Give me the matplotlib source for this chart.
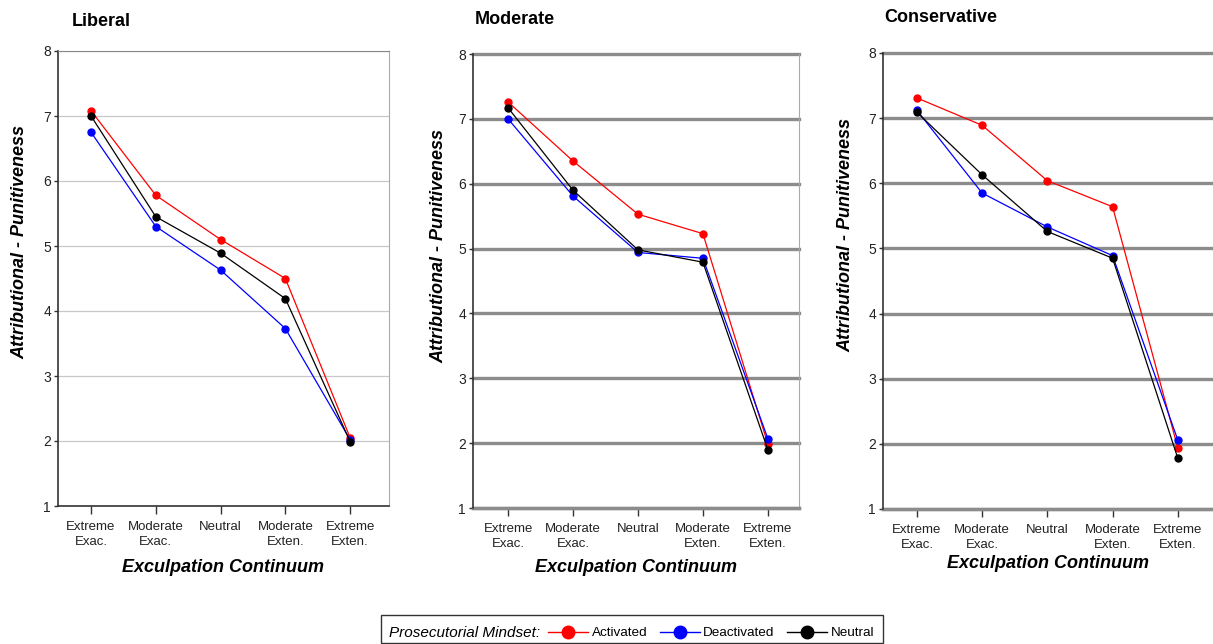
import matplotlib.pyplot as plt
from matplotlib.lines import Line2D
from matplotlib.patches import Rectangle

plt.rcParams['font.family'] = ['Liberation Sans', 'DejaVu Sans']

categories = ["Extreme\nExac.", "Moderate\nExac.", "Neutral", "Moderate\nExten.", "Extreme\nExten."]
panels = ["Liberal", "Moderate", "Conservative"]

# Attributional - Punitiveness means, per panel
liberal_activated = [7.08, 5.78, 5.10, 4.50, 2.05]
liberal_deactivated = [6.75, 5.30, 4.63, 3.73, 2.02]
liberal_neutral = [7.00, 5.45, 4.89, 4.19, 1.99]

moderate_activated = [7.26, 6.35, 5.53, 5.23, 1.99]
moderate_deactivated = [7.00, 5.81, 4.94, 4.85, 2.07]
moderate_neutral = [7.17, 5.90, 4.98, 4.79, 1.90]

conservative_activated = [7.31, 6.89, 6.04, 5.64, 1.94]
conservative_deactivated = [7.12, 5.85, 5.33, 4.89, 2.06]
conservative_neutral = [7.09, 6.13, 5.26, 4.85, 1.78]

series = {
    "Liberal": (liberal_activated, liberal_deactivated, liberal_neutral),
    "Moderate": (moderate_activated, moderate_deactivated, moderate_neutral),
    "Conservative": (conservative_activated, conservative_deactivated, conservative_neutral),
}
colors = ["#ff0000", "#0000ff", "#000000"]
legend_labels = ["Activated", "Deactivated", "Neutral"]

W, H = 1213, 644
fig = plt.figure(figsize=(W / 100, H / 100), dpi=100)

# pixel boxes: left, right, top, bottom
boxes = {
    "Liberal": (58, 389, 51, 506),
    "Moderate": (473, 799, 54, 508),
    "Conservative": (883, 1213, 53, 509),
}
xlims = {"Liberal": (-0.51, 4.60), "Moderate": (-0.54, 4.48), "Conservative": (-0.52, 4.54)}
title_pos = {"Liberal": (72, 21), "Moderate": (475, 20), "Conservative": (884, 17)}
ylab_pos = {"Liberal": (-0.088, 0.58), "Moderate": (-0.080, 0.577), "Conservative": (-0.088, 0.60)}
xlab_y = {"Liberal": 567, "Moderate": 567, "Conservative": 564}

for name in panels:
    l, r, t, b = boxes[name]
    ax = fig.add_axes([l / W, (H - b) / H, (r - l) / W, (b - t) / H])
    x = list(range(len(categories)))
    for vals, c in zip(series[name], colors):
        ax.plot(x, vals, '-', color=c, lw=0.9, marker='o', ms=5, mec=c, mfc=c, zorder=3)
    ax.set_xlim(*xlims[name])
    ax.set_ylim(1, 8)
    ax.set_yticks(range(1, 9))
    ax.set_xticks(x)
    ax.set_xticklabels(categories, fontsize=9.5, linespacing=1.25)
    ax.tick_params(axis='x', length=6, width=1, pad=5, colors='#333333', labelcolor='#222222')
    ax.tick_params(axis='y', length=3, width=1, pad=2, labelsize=10, colors='#333333', labelcolor='#222222')

    if name == "Liberal":
        ax.grid(axis='y', color='#c8c8c8', lw=0.9)
        ax.spines['top'].set_color('#888888')
        ax.spines['right'].set_color('#aaaaaa')
        for s in ['left', 'bottom']:
            ax.spines[s].set_color('#333333')
            ax.spines[s].set_linewidth(1.2)
    else:
        ax.grid(axis='y', color='#8c8c8c', lw=2.4)
        for gl in ax.get_ygridlines():
            gl.set_clip_on(False)
        ax.spines['top'].set_visible(False)
        ax.spines['bottom'].set_color('#8c8c8c')
        ax.spines['bottom'].set_linewidth(2.4)
        ax.spines['left'].set_color('#333333')
        ax.spines['left'].set_linewidth(1.2)
        ax.spines['left'].set_zorder(4)
        if name == "Moderate":
            ax.spines['right'].set_color('#aaaaaa')
        else:
            ax.spines['right'].set_visible(False)
    ax.set_axisbelow(True)

    ax.set_ylabel("Attributional - Punitiveness", fontsize=13, fontweight='bold', fontstyle='italic')
    ax.yaxis.set_label_coords(*ylab_pos[name])
    tx, ty = title_pos[name]
    fig.text(tx / W, (H - ty) / H, name, fontsize=13, fontweight='bold', ha='left', va='center')
    fig.text((l + r) / 2 / W, (H - xlab_y[name]) / H, "Exculpation Continuum",
             fontsize=13, fontweight='bold', fontstyle='italic', ha='center', va='center')

# legend box at the bottom
fig.patches.append(Rectangle((381 / W, 1 / H), 502 / W, 28 / H, transform=fig.transFigure,
                             fill=False, edgecolor='#333333', lw=1))
fig.text(389 / W, (H - 633) / H, "Prosecutorial Mindset:", fontsize=11, fontstyle='italic',
         ha='left', va='center')
handles = [Line2D([], [], color=c, lw=1, marker='o', ms=9, mfc=c, mec=c) for c in colors]
fig.legend(handles, legend_labels, loc='center left', bbox_to_anchor=(548 / W, (H - 633) / H),
           ncol=3, frameon=False, fontsize=9.7, handlelength=3, handletextpad=0.25,
           columnspacing=0.9, borderpad=0, borderaxespad=0)

fig.savefig("out.png", dpi=100)
